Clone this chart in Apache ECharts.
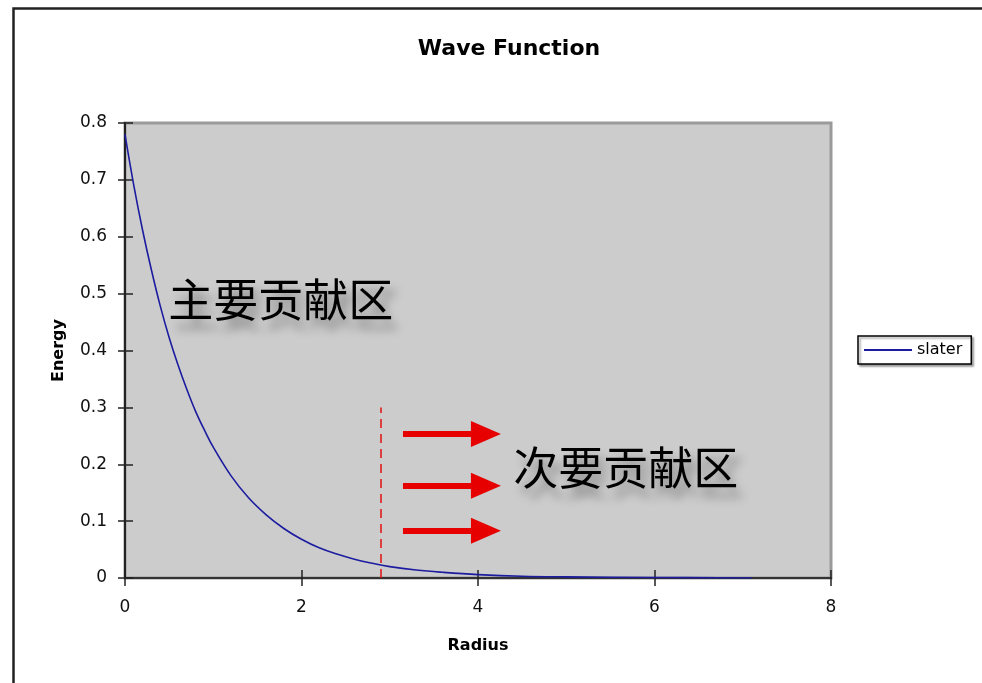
<!DOCTYPE html>
<html>
<head>
<meta charset="utf-8">
<script src="https://cdn.jsdelivr.net/npm/echarts@6/dist/echarts.min.js"></script>
<style>html,body{margin:0;padding:0;background:#fff}#c{width:982px;height:683px}</style>
</head>
<body>
<div id="c"></div>
<script>
// ---- data ----
var radius = [0, 0.1, 0.2, 0.3, 0.4, 0.5, 0.6, 0.7, 0.8, 0.9, 1.0, 1.2, 1.4, 1.6, 1.8, 2.0, 2.2, 2.4, 2.6, 2.8, 3.0, 3.3, 3.6, 4.0, 4.5, 5.0, 6.0, 7.1];
var energy = [0.780, 0.690, 0.611, 0.541, 0.478, 0.423, 0.375, 0.332, 0.293, 0.260, 0.230, 0.180, 0.141, 0.111, 0.087, 0.068, 0.053, 0.042, 0.033, 0.026, 0.020, 0.014, 0.010, 0.006, 0.003, 0.002, 0.001, 0.000];
var seriesName = 'slater';
var titleText = 'Wave Function';
var xName = 'Radius';
var yName = 'Energy';
var xMin = 0, xMax = 8, xStep = 2;
var yMin = 0, yMax = 0.8, yStep = 0.1;
var cutoffX = 2.9, cutoffTop = 0.3;
var arrowStartX = 3.15, arrowEndX = 4.09;
var arrowYs = [0.253, 0.162, 0.083];
var mainLabel = '主要贡献区', mainLabelPos = [0.49, 0.489];
var minorLabel = '次要贡献区', minorLabelPos = [4.4, 0.193];

var pairs = radius.map(function (r, i) { return [r, energy[i]]; });

var arrowLines = arrowYs.map(function (y) {
  return [{ coord: [arrowStartX, y] }, { coord: [arrowEndX, y] }];
});

var cjkLabel = {
  show: true, position: 'right', distance: 0,
  fontFamily: 'Noto Sans CJK SC', fontSize: 45, fontWeight: 'normal', color: '#000',
  textShadowColor: 'rgba(0,0,0,0.35)', textShadowBlur: 10, textShadowOffsetX: 6, textShadowOffsetY: 10
};

var tickStyle = { color: '#222', width: 1.5 };
var gridRect = { left: 125, right: 151, top: 123, bottom: 105 };

var chart = echarts.init(document.getElementById('c'), null, { renderer: 'canvas' });
chart.setOption({
  animation: false,
  backgroundColor: '#fff',
  title: {
    text: titleText, left: 504, top: 33, textAlign: 'center',
    textStyle: { fontFamily: 'DejaVu Sans', fontWeight: 'bold', fontSize: 22, color: '#000' }
  },
  legend: {
    data: [seriesName], left: 858, top: 336, orient: 'vertical',
    icon: 'rect',
    backgroundColor: '#fff', borderColor: '#000', borderWidth: 1.5,
    padding: [5, 9, 5, 6], itemWidth: 48, itemHeight: 2, itemGap: 0,
    shadowColor: 'rgba(0,0,0,0.35)', shadowBlur: 2, shadowOffsetX: 2, shadowOffsetY: 2,
    textStyle: { fontFamily: 'DejaVu Sans', fontSize: 16, color: '#000', lineHeight: 18 }
  },
  graphic: [{
    type: 'rect', left: 11, top: 6, silent: true,
    shape: { width: 1000, height: 700 },
    style: { fill: 'none', stroke: '#222', lineWidth: 2.5 }
  }],
  grid: [
    Object.assign({ show: true, backgroundColor: '#cccccc', borderColor: '#9a9a9a', borderWidth: 3 }, gridRect),
    Object.assign({ show: false }, gridRect)
  ],
  xAxis: [{
    type: 'value', gridIndex: 0, min: xMin, max: xMax, interval: xStep,
    name: xName, nameLocation: 'middle', nameGap: 60,
    nameTextStyle: { fontFamily: 'DejaVu Sans', fontWeight: 'bold', fontSize: 16, color: '#000' },
    axisLine: { show: true, lineStyle: { color: '#333', width: 2 } },
    axisTick: { show: true, length: 8, lineStyle: tickStyle },
    axisLabel: { margin: 21, fontFamily: 'DejaVu Sans', fontSize: 17, color: '#111' },
    splitLine: { show: false }
  }, {
    type: 'value', gridIndex: 1, min: xMin, max: xMax, interval: xStep, position: 'bottom',
    axisLine: { show: false },
    axisTick: { show: true, inside: true, length: 8, lineStyle: tickStyle },
    axisLabel: { show: false }, splitLine: { show: false }
  }],
  yAxis: [{
    type: 'value', gridIndex: 0, min: yMin, max: yMax, interval: yStep,
    name: yName, nameLocation: 'middle', nameGap: 58, nameRotate: 90,
    nameTextStyle: { fontFamily: 'DejaVu Sans', fontWeight: 'bold', fontSize: 16, color: '#000' },
    axisLine: { show: true, lineStyle: { color: '#222', width: 2 } },
    axisTick: { show: true, length: 7, lineStyle: tickStyle },
    axisLabel: { margin: 18, fontFamily: 'DejaVu Sans', fontSize: 17, color: '#111',
      formatter: function (v) { return v === 0 ? '0' : v.toFixed(1); } },
    splitLine: { show: false }
  }, {
    type: 'value', gridIndex: 1, min: yMin, max: yMax, interval: yStep, position: 'left',
    axisLine: { show: false },
    axisTick: { show: true, inside: true, length: 8, lineStyle: tickStyle },
    axisLabel: { show: false }, splitLine: { show: false }
  }],
  series: [{
    name: seriesName, type: 'line', data: pairs, smooth: 0.4,
    symbol: 'none', showSymbol: false,
    lineStyle: { color: '#1c1ca0', width: 1.6 },
    itemStyle: { color: '#1c1ca0' },
    markLine: {
      silent: true, animation: false,
      data: [
        [{ coord: [cutoffX, yMin], symbol: 'none', lineStyle: { color: '#e01010', type: [9, 6], width: 1.5 } },
         { coord: [cutoffX, cutoffTop], symbol: 'none' }]
      ].concat(arrowLines.map(function (seg) {
        return [
          { coord: seg[0].coord, symbol: 'none', lineStyle: { color: '#e60000', type: 'solid', width: 6 } },
          { coord: seg[1].coord, symbol: 'triangle', symbolSize: [26, 30] }
        ];
      })),
      label: { show: false },
      itemStyle: { color: '#e60000' }
    },
    markPoint: {
      silent: true, symbol: 'circle', symbolSize: 0,
      data: [
        { coord: mainLabelPos, value: mainLabel,
          label: Object.assign({}, cjkLabel, { formatter: mainLabel }) },
        { coord: minorLabelPos, value: minorLabel,
          label: Object.assign({}, cjkLabel, { formatter: minorLabel }) }
      ]
    }
  }, {
    // invisible copy in the overlay grid, whose axes draw the inner half of the crossing ticks
    type: 'line', xAxisIndex: 1, yAxisIndex: 1, data: pairs, silent: true,
    symbol: 'none', showSymbol: false, lineStyle: { opacity: 0 }
  }]
});
</script>
</body>
</html>
